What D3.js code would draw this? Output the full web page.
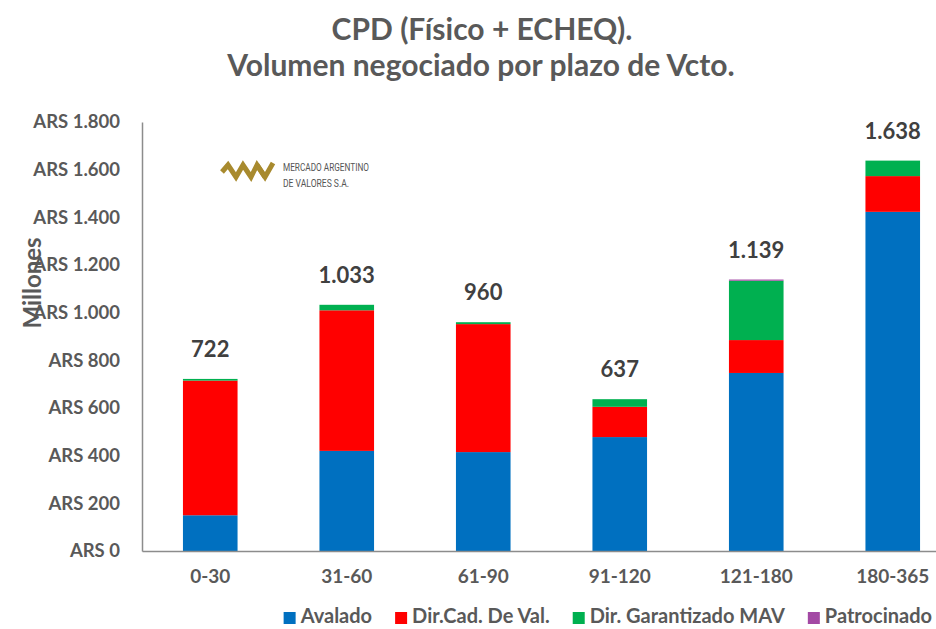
<!DOCTYPE html>
<html>
<head>
<meta charset="utf-8">
<script src="https://cdn.jsdelivr.net/npm/d3@7"></script>
<style>
  body { margin: 0; background: #fff; }
  svg { display: block; font-family: Lato, "Open Sans", sans-serif; }
</style>
</head>
<body>
<svg id="chart"></svg>
<script>
// categories (plazo de vencimiento, días)
const plazos = ["0-30", "31-60", "61-90", "91-120", "121-180", "180-365"];

// series values, ARS millones
const avalado = [150, 420, 415, 478, 747, 1423];
const dirCadVal = [565, 590, 537, 127, 138, 150];
const dirGarantizado = [7, 23, 8, 32, 249, 65];
const patrocinado = [0, 0, 0, 0, 5, 0];

const seriesNames = ["Avalado", "Dir.Cad. De Val.", "Dir. Garantizado MAV", "Patrocinado"];
const seriesColors = ["#0070C0", "#FF0000", "#00B050", "#A349A4"];
const yTicks = [0, 200, 400, 600, 800, 1000, 1200, 1400, 1600, 1800];

const width = 936, height = 629;
const margin = { top: 122, right: -25, bottom: 78, left: 142 };

const svg = d3.select("#chart")
    .attr("width", width)
    .attr("height", height);

// locale con punto de miles
const es = d3.formatLocale({ decimal: ",", thousands: ".", grouping: [3], currency: ["", ""] });
const fmt = es.format(",d");

// build rows for the stack
const keys = ["avalado", "dirCadVal", "dirGarantizado", "patrocinado"];
const rows = plazos.map((p, i) => ({
    plazo: p,
    avalado: avalado[i],
    dirCadVal: dirCadVal[i],
    dirGarantizado: dirGarantizado[i],
    patrocinado: patrocinado[i]
}));
const stacked = d3.stack().keys(keys)(rows);
const total = d => keys.reduce((s, k) => s + d[k], 0);

const x = d3.scaleBand()
    .domain(plazos)
    .range([margin.left, width - margin.right])
    .paddingInner(0.6)
    .paddingOuter(0.3);

const y = d3.scaleLinear()
    .domain([0, 1800])
    .range([height - margin.bottom, margin.top]);

// title
const title = svg.append("g")
    .attr("text-anchor", "middle")
    .attr("font-size", 30).attr("font-weight", "bold")
    .attr("fill", "#595959");
title.append("text").attr("x", 482).attr("y", 40).text("CPD (Físico + ECHEQ).");
title.append("text").attr("x", 481).attr("y", 76).text("Volumen negociado por plazo de Vcto.");

// bars
svg.append("g")
    .selectAll("g")
    .data(stacked)
    .join("g")
    .attr("fill", (d, i) => seriesColors[i])
    .selectAll("rect")
    .data(d => d)
    .join("rect")
    .attr("x", d => x(d.data.plazo))
    .attr("width", x.bandwidth())
    .attr("y", d => y(d[1]))
    .attr("height", d => y(d[0]) - y(d[1]));

// totals above bars
svg.append("g")
    .selectAll("text")
    .data(rows)
    .join("text")
    .attr("x", d => x(d.plazo) + x.bandwidth() / 2)
    .attr("y", d => y(total(d)) - 22)
    .attr("text-anchor", "middle")
    .attr("font-size", 22).attr("font-weight", "bold")
    .attr("fill", "#404040")
    .text(d => fmt(total(d)));

// y axis
const yAxis = svg.append("g")
    .attr("transform", `translate(${margin.left},0)`)
    .call(d3.axisLeft(y).tickValues(yTicks).tickSize(0).tickPadding(22)
        .tickFormat(d => "ARS " + fmt(d)));
yAxis.select(".domain").attr("stroke", "#8c8c8c").attr("stroke-width", 1.5);
yAxis.selectAll("text")
    .attr("font-family", "Lato, sans-serif")
    .attr("font-size", 18.5).attr("font-weight", "bold")
    .attr("fill", "#595959");

// x axis
const xAxis = svg.append("g")
    .attr("transform", `translate(0,${y(0)})`)
    .call(d3.axisBottom(x).tickSize(0).tickPadding(19));
xAxis.select(".domain").attr("stroke", "#8c8c8c").attr("stroke-width", 1.5);
xAxis.selectAll("text")
    .attr("font-family", "Lato, sans-serif")
    .attr("font-size", 19).attr("font-weight", "bold")
    .attr("fill", "#595959");

// y title
svg.append("text")
    .attr("transform", "translate(41,283) rotate(-90)")
    .attr("text-anchor", "middle")
    .attr("font-size", 24).attr("font-weight", "bold")
    .attr("fill", "#595959")
    .text("Millones");

// logo MAV
const logo = svg.append("g").attr("transform", "translate(222,163)");
logo.append("polyline")
    .attr("points", "0,9 6,2 14,14 21,2 29,14 35,2 43,14")
    .attr("fill", "none")
    .attr("stroke", "#A88A2E").attr("stroke-width", 5)
    .attr("stroke-linejoin", "miter");
logo.append("polyline")
    .attr("points", "35,2 43,14 51,0")
    .attr("fill", "none")
    .attr("stroke", "#A88A2E").attr("stroke-width", 5);
logo.append("text")
    .attr("x", 61).attr("y", 8)
    .attr("font-family", "Roboto, sans-serif")
    .attr("font-size", 11).attr("fill", "#555")
    .attr("textLength", 86).attr("lengthAdjust", "spacingAndGlyphs")
    .text("MERCADO ARGENTINO");
logo.append("text")
    .attr("x", 61).attr("y", 24)
    .attr("font-family", "Roboto, sans-serif")
    .attr("font-size", 11).attr("fill", "#555")
    .attr("textLength", 66).attr("lengthAdjust", "spacingAndGlyphs")
    .text("DE VALORES S.A.");

// legend, laid out right to left so it ends at the right edge
const legend = svg.append("g").attr("transform", "translate(0,623)");
const items = legend.selectAll("g")
    .data(seriesNames)
    .join("g");
items.append("rect")
    .attr("width", 12).attr("height", 12)
    .attr("y", -11)
    .attr("fill", (d, i) => seriesColors[i]);
items.append("text")
    .attr("x", 17)
    .attr("y", 0)
    .attr("font-size", 20).attr("font-weight", "bold")
    .attr("fill", "#595959")
    .text(d => d);

let cursor = 932;
const placed = [];
items.nodes().reverse().forEach(node => {
    const w = d3.select(node).select("text").node().getComputedTextLength() + 17;
    cursor -= w;
    placed.push([node, cursor]);
    cursor -= 23;
});
placed.forEach(([node, px]) => d3.select(node).attr("transform", `translate(${px},0)`));
</script>
</body>
</html>
